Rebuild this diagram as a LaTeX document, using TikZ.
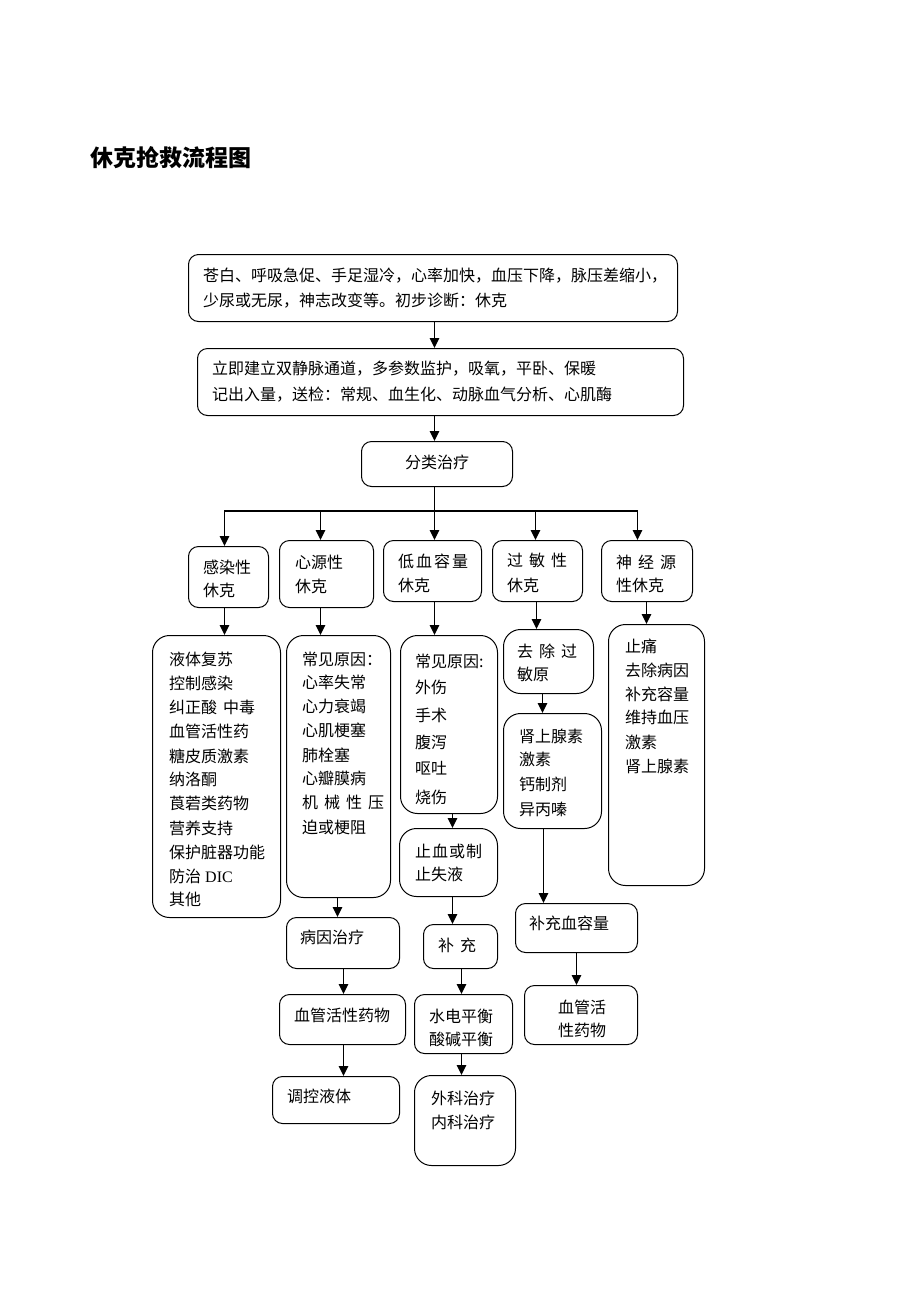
\documentclass[tikz,border=0pt]{standalone}
\usepackage{fontspec}
\setmainfont{Noto Sans CJK SC}
\newfontfamily\lat{Liberation Serif}
\usetikzlibrary{arrows.meta}
\newcommand\myfs{\fontsize{16pt}{20pt}\selectfont}
\newcommand\gp[1]{\hspace{#1pt}}
\newcommand\bx[6]{\node[box,minimum width=#4pt,minimum height=#5pt,anchor=north west,#6] (#1) at (#2,#3) {};}
\newcommand\lns[3]{\foreach \myy/\myt [count=\i] in {#3} \node[txt] (#1-\i) at (#2,\myy) {\myt};}
\tikzset{
  box/.style={draw=black,line width=1pt,rounded corners=10pt,inner sep=0pt},
  big/.style={rounded corners=17pt},
  txt/.style={inner sep=0pt,anchor=base west,font=\myfs},
  arr/.style={-{Triangle[length=10pt,width=9.5pt]},line width=1.3pt},
  ln/.style={line width=1.3pt}
}
\begin{document}
\begin{tikzpicture}[x=1pt,y=-1pt]
\useasboundingbox[fill=white] (0,0) rectangle (920,1302);
\node[inner sep=0pt,anchor=base west,font=\bfseries\fontsize{23pt}{23pt}\selectfont] (title) at (90,166) {休克抢救流程图};
% boxes
\bx{b1}{188}{254}{489}{67}{}
\bx{b2}{197}{348}{486}{67}{}
\bx{b3}{361}{441}{151}{45}{}
\bx{t1}{188}{546}{80}{61}{}
\bx{t2}{279}{540}{94}{67}{}
\bx{t3}{383}{540}{98}{61}{}
\bx{t4}{492}{540}{90}{61}{}
\bx{t5}{601}{540}{91}{61}{}
\bx{d1}{152}{635}{128}{282}{big}
\bx{d2}{286}{635}{104}{262}{big}
\bx{d3}{286}{917}{113}{51}{}
\bx{d4}{279}{994}{126}{50}{}
\bx{d5}{272}{1076}{127}{47}{}
\bx{e1}{400}{635}{97}{178}{big}
\bx{e2}{399}{828}{98}{68}{big}
\bx{e3}{423}{924}{74}{44}{}
\bx{e4}{414}{994}{98}{59}{}
\bx{e5}{414}{1075}{101}{90}{big}
\bx{f1}{503}{629}{90}{64}{big}
\bx{f2}{503}{713}{98}{115}{big}
\bx{f3}{515}{903}{122}{49}{}
\bx{f4}{524}{985}{113}{59}{}
\bx{g1}{608}{624}{96}{261}{big}
% texts
\lns{b1t}{203}{281/苍白、呼吸急促、手足湿冷，心率加快，血压下降，脉压差缩小，, 306/少尿或无尿，神志改变等。初步诊断：休克}
\lns{b2t}{212}{374/立即建立双静脉通道，多参数监护，吸氧，平卧、保暖, 400/记出入量，送检：常规、血生化、动脉血气分析、心肌酶}
\lns{b3t}{405}{468/分类治疗}
\lns{t1t}{203}{573/感染性, 596/休克}
\lns{t2t}{295}{568/心源性, 592/休克}
\lns{t3t}{398}{567/低\gp{2}血\gp{2}容\gp{2}量, 591/休克}
\lns{t4t}{507}{566/过\gp{6}敏\gp{6}性, 591/休克}
\lns{t5t}{616}{568/神\gp{6}经\gp{6}源, 591/性休克}
\lns{d1t}{169}{665/液体复苏, 689/控制感染, 713/纠正酸\gp{6}中毒, 737/血管活性药, 762/糖皮质激素, 785/纳洛酮, 809/莨菪类药物, 834/营养支持, 858/保护脏器功能, 882/防治\gp{4}{\lat DIC}, 905/其他}
\lns{d2t}{302}{665/常见原因：, 688/心率失常, 712/心力衰竭, 736/心肌梗塞, 761/肺栓塞, 784/心瓣膜病, 808/机\gp{6}械\gp{6}性\gp{6}压, 833/迫或梗阻}
\lns{d3t}{300}{943/病因治疗}
\lns{d4t}{294}{1021/血管活性药物}
\lns{d5t}{287}{1102/调控液体}
\lns{e1t}{415}{667/常见原因:, 693/外伤, 721/手术, 748/腹泻, 774/呕吐, 803/烧伤}
\lns{e2t}{415}{857/止\gp{1}血\gp{1}或\gp{1}制, 880/止失液}
\lns{e3t}{438}{951/补\gp{6}充}
\lns{e4t}{429}{1022/水电平衡, 1045/酸碱平衡}
\lns{e5t}{431}{1104/外科治疗, 1128/内科治疗}
\lns{f1t}{517}{657/去\gp{6}除\gp{6}过, 680/敏原}
\lns{f2t}{519}{742/肾上腺素, 765/激素, 790/钙制剂, 815/异丙嗪}
\lns{f3t}{529}{929/补充血容量}
\lns{f4t}{558}{1013/血管活, 1036/性药物}
\lns{g1t}{625}{652/止痛, 676/去除病因, 700/补充容量, 723/维持血压, 748/激素, 772/肾上腺素}
% connectors
\draw[arr] ([xshift=1.5pt]b1.south) -- ([xshift=-6pt]b2.north);
\draw[arr] ([xshift=-6pt]b2.south) -- ([xshift=-2.5pt]b3.north);
\path ([xshift=-2.5pt,yshift=-24pt]b3.south) coordinate (br);
\draw[ln] ([xshift=-2.5pt]b3.south) -- (br);
\draw[arr] (br) -| ([xshift=-4pt]t1.north);
\draw[arr] (br) -| ([xshift=-6pt]t2.north);
\draw[arr] (br) -- (br |- t3.north);
\draw[arr] (br) -| ([xshift=-2pt]t4.north);
\draw[arr] (br) -| ([xshift=-9.5pt]t5.north);
\draw[arr] ([xshift=-4pt]t1.south) -- ([xshift=8pt]d1.north);
\draw[arr] ([xshift=-6pt]t2.south) -- ([xshift=-18pt]d2.north);
\draw[arr] ([xshift=2pt]t3.south) -- ([xshift=-14.5pt]e1.north);
\draw[arr] ([xshift=-1pt]t4.south) -- ([xshift=-12pt]f1.north);
\draw[arr] ([xshift=-0.5pt]t5.south) -- ([xshift=-10pt]g1.north);
\draw[arr] ([xshift=-1pt]d2.south) -- ([xshift=-5.5pt]d3.north);
\draw[arr] ([xshift=0.5pt]d3.south) -- ([xshift=1pt]d4.north);
\draw[arr] ([xshift=1pt]d4.south) -- ([xshift=7.5pt]d5.north);
\draw[arr] ([xshift=3.5pt]e1.south) -- ([xshift=4pt]e2.north);
\draw[arr] ([xshift=4pt]e2.south) -- ([xshift=-8pt]e3.north);
\draw[arr] ([xshift=1pt]e3.south) -- ([xshift=-2pt]e4.north);
\draw[arr] ([xshift=-2pt]e4.south) -- ([xshift=-3.5pt]e5.north);
\draw[arr] ([xshift=-6pt]f1.south) -- ([xshift=-10pt]f2.north);
\draw[arr] ([xshift=-9pt]f2.south) -- ([xshift=-33pt]f3.north);
\draw[arr] ([xshift=0pt]f3.south) -- ([xshift=-4.5pt]f4.north);
\end{tikzpicture}
\end{document}
